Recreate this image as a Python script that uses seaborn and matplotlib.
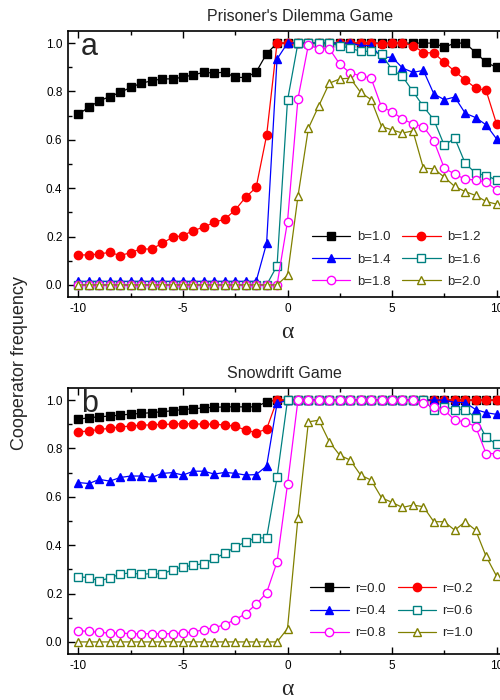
import matplotlib
matplotlib.use("Agg")
import matplotlib.pyplot as plt
from matplotlib.ticker import MultipleLocator, FormatStrFormatter
import seaborn as sns

alpha = [-10, -9.5, -9, -8.5, -8, -7.5, -7, -6.5, -6, -5.5, -5, -4.5, -4, -3.5,
         -3, -2.5, -2, -1.5, -1, -0.5, 0, 0.5, 1, 1.5, 2, 2.5, 3, 3.5, 4, 4.5,
         5, 5.5, 6, 6.5, 7, 7.5, 8, 8.5, 9, 9.5, 10]

# Prisoner's Dilemma
pd_b10 = [0.706, 0.735, 0.761, 0.779, 0.796, 0.817, 0.834, 0.844, 0.852, 0.852,
          0.859, 0.869, 0.879, 0.876, 0.880, 0.858, 0.858, 0.880, 0.956, 1.0,
          1.0, 1.0, 1.0, 1.0, 1.0, 1.0, 1.0, 1.0, 1.0, 1.0, 1.0, 1.0, 1.0,
          1.0, 1.0, 0.983, 1.0, 1.0, 0.961, 0.920, 0.900]
pd_b12 = [0.124, 0.124, 0.128, 0.135, 0.121, 0.134, 0.149, 0.148, 0.172, 0.197,
          0.204, 0.225, 0.239, 0.259, 0.272, 0.310, 0.363, 0.403, 0.618, 1.0,
          1.0, 1.0, 1.0, 1.0, 1.0, 1.0, 1.0, 1.0, 1.0, 0.997, 1.0, 1.0, 0.990,
          0.961, 0.959, 0.921, 0.883, 0.848, 0.814, 0.804, 0.666]
pd_b14 = [0.015, 0.015, 0.015, 0.015, 0.015, 0.015, 0.015, 0.015, 0.015, 0.015,
          0.015, 0.015, 0.015, 0.015, 0.015, 0.015, 0.015, 0.015, 0.172, 0.934,
          1.0, 1.0, 1.0, 1.0, 1.0, 1.0, 1.0, 0.990, 0.990, 0.940, 0.942, 0.897,
          0.879, 0.887, 0.790, 0.766, 0.777, 0.710, 0.692, 0.662, 0.604]
pd_b16 = [0.0, 0.0, 0.0, 0.0, 0.0, 0.0, 0.0, 0.0, 0.0, 0.0,
          0.0, 0.0, 0.0, 0.0, 0.0, 0.0, 0.0, 0.0, 0.0, 0.079,
          0.763, 1.0, 1.0, 1.0, 1.0, 0.989, 0.979, 0.966, 0.966, 0.954, 0.890,
          0.862, 0.800, 0.738, 0.683, 0.577, 0.607, 0.503, 0.462, 0.452, 0.434]
pd_b18 = [0.0, 0.0, 0.0, 0.0, 0.0, 0.0, 0.0, 0.0, 0.0, 0.0,
          0.0, 0.0, 0.0, 0.0, 0.0, 0.0, 0.0, 0.0, 0.0, 0.0,
          0.262, 0.770, 0.993, 0.977, 0.977, 0.913, 0.876, 0.865, 0.855, 0.735,
          0.717, 0.686, 0.666, 0.655, 0.596, 0.483, 0.458, 0.437, 0.434, 0.425,
          0.393]
pd_b20 = [0.0, 0.0, 0.0, 0.0, 0.0, 0.0, 0.0, 0.0, 0.0, 0.0,
          0.0, 0.0, 0.0, 0.0, 0.0, 0.0, 0.0, 0.0, 0.0, 0.0,
          0.040, 0.366, 0.648, 0.741, 0.834, 0.852, 0.855, 0.796, 0.766, 0.655,
          0.641, 0.628, 0.637, 0.483, 0.480, 0.446, 0.407, 0.386, 0.370, 0.345,
          0.334]

# Snowdrift
sd_r00 = [0.921, 0.927, 0.931, 0.934, 0.938, 0.942, 0.945, 0.948, 0.952, 0.956,
          0.961, 0.964, 0.968, 0.970, 0.972, 0.972, 0.972, 0.972, 0.993,
          1.0, 1.0, 1.0, 1.0, 1.0, 1.0, 1.0, 1.0, 1.0, 1.0, 1.0, 1.0,
          1.0, 1.0, 1.0, 1.0, 1.0, 1.0, 1.0, 1.0, 1.0, 1.0]
sd_r02 = [0.869, 0.872, 0.879, 0.883, 0.890, 0.892, 0.897, 0.897, 0.900, 0.900,
          0.903, 0.901, 0.901, 0.900, 0.897, 0.892, 0.876, 0.865, 0.880,
          1.0, 1.0, 1.0, 1.0, 1.0, 1.0, 1.0, 1.0, 1.0, 1.0, 1.0, 1.0,
          1.0, 1.0, 1.0, 1.0, 1.0, 1.0, 1.0, 1.0, 1.0, 1.0]
sd_r04 = [0.659, 0.655, 0.672, 0.665, 0.680, 0.686, 0.686, 0.680, 0.697, 0.700,
          0.690, 0.706, 0.706, 0.694, 0.701, 0.697, 0.690, 0.692, 0.727, 0.986,
          1.0, 1.0, 1.0, 1.0, 1.0, 1.0, 1.0, 1.0, 1.0, 1.0, 1.0, 1.0, 1.0, 1.0,
          1.0, 1.0, 0.990, 0.990, 0.961, 0.948, 0.941]
sd_r06 = [0.269, 0.266, 0.252, 0.265, 0.280, 0.286, 0.279, 0.283, 0.280, 0.299,
          0.310, 0.317, 0.324, 0.345, 0.366, 0.393, 0.414, 0.430, 0.430, 0.680,
          1.0, 1.0, 1.0, 1.0, 1.0, 1.0, 1.0, 1.0, 1.0, 1.0, 1.0, 1.0, 1.0, 1.0,
          0.959, 0.972, 0.961, 0.961, 0.927, 0.846, 0.818]
sd_r08 = [0.046, 0.044, 0.039, 0.037, 0.037, 0.034, 0.034, 0.034, 0.034, 0.034,
          0.037, 0.041, 0.051, 0.058, 0.072, 0.092, 0.117, 0.156, 0.203, 0.331,
          0.651, 1.0, 1.0, 1.0, 1.0, 1.0, 1.0, 1.0, 1.0, 1.0, 1.0, 1.0, 1.0,
          0.986, 0.972, 0.959, 0.917, 0.910, 0.890, 0.779, 0.779]
sd_r10 = [0.0, 0.0, 0.0, 0.0, 0.0, 0.0, 0.0, 0.0, 0.0, 0.0,
          0.0, 0.0, 0.0, 0.0, 0.0, 0.0, 0.0, 0.0, 0.0, 0.0,
          0.055, 0.513, 0.910, 0.917, 0.828, 0.772, 0.752, 0.690, 0.669, 0.596,
          0.577, 0.556, 0.566, 0.559, 0.497, 0.497, 0.462, 0.497, 0.462, 0.354,
          0.272]

pd_labels = ["b=1.0", "b=1.2", "b=1.4", "b=1.6", "b=1.8", "b=2.0"]
sd_labels = ["r=0.0", "r=0.2", "r=0.4", "r=0.6", "r=0.8", "r=1.0"]

colors = ["black", "#ff0000", "#0000ff", "#008080", "#ff00ff", "#808000"]
markers = ["s", "o", "^", "s", "o", "^"]
filled = [True, True, True, False, False, False]
msizes = [5.2, 6.0, 6.4, 5.2, 6.0, 6.4]

sns.set_style("ticks")
plt.rcParams["font.family"] = ["Liberation Sans", "DejaVu Sans"]
plt.rcParams["axes.unicode_minus"] = False

fig = plt.figure(figsize=(5, 7), dpi=100)
ax1 = fig.add_axes([0.136, 0.5757, 0.878, 0.38])
ax2 = fig.add_axes([0.136, 0.0657, 0.878, 0.38])


def draw(ax, series, labels, title, title_x, letter, leg_anchor):
    for ys, lab, c, m, f, ms in zip(series, labels, colors, markers, filled, msizes):
        sns.lineplot(x=alpha, y=ys, ax=ax, color=c, marker=m, markersize=ms,
                     markeredgecolor=c, markerfacecolor=c if f else "white",
                     markeredgewidth=1.0, linewidth=0.9, label=lab)
    ax.set_xlim(-10.5, 10.5)
    ax.set_ylim(-0.05, 1.05)
    ax.xaxis.set_major_locator(MultipleLocator(5))
    ax.xaxis.set_minor_locator(MultipleLocator(2.5))
    ax.yaxis.set_major_locator(MultipleLocator(0.2))
    ax.yaxis.set_minor_locator(MultipleLocator(0.1))
    ax.yaxis.set_major_formatter(FormatStrFormatter("%.1f"))
    ax.tick_params(which="both", direction="in", top=True, right=True,
                   labelsize=8.5, width=1.0, colors="black")
    ax.tick_params(which="major", length=5, pad=4)
    ax.tick_params(which="minor", length=3)
    for s in ax.spines.values():
        s.set_visible(True)
        s.set_linewidth(1.2)
        s.set_color("black")
    ax.set_xlabel("α", family=["Liberation Serif", "DejaVu Serif"],
                  fontsize=17, labelpad=5)
    ax.set_ylabel("")
    ax.set_title(title, fontsize=11.5, x=title_x, pad=7)
    ax.text(0.03, 0.995, letter, transform=ax.transAxes, fontsize=22,
            va="top", ha="left")
    handles, labs = ax.get_legend_handles_labels()
    order = [0, 2, 4, 1, 3, 5]
    ax.legend([handles[i] for i in order], [labs[i] for i in order],
              ncol=2, frameon=False, loc="lower left", bbox_to_anchor=leg_anchor,
              fontsize=9.5, handlelength=2.9, columnspacing=0.9,
              labelspacing=0.75, handletextpad=0.5, borderpad=0,
              borderaxespad=0)


draw(ax1, [pd_b10, pd_b12, pd_b14, pd_b16, pd_b18, pd_b20], pd_labels,
     "Prisoner's Dilemma Game", 0.528, "a", (0.556, 0.035))
draw(ax2, [sd_r00, sd_r02, sd_r04, sd_r06, sd_r08, sd_r10], sd_labels,
     "Snowdrift Game", 0.492, "b", (0.552, 0.055))

fig.text(0.04, 0.482, "Cooperator frequency", rotation=90, fontsize=13,
         ha="center", va="center")

fig.savefig("out.png", dpi=100)
